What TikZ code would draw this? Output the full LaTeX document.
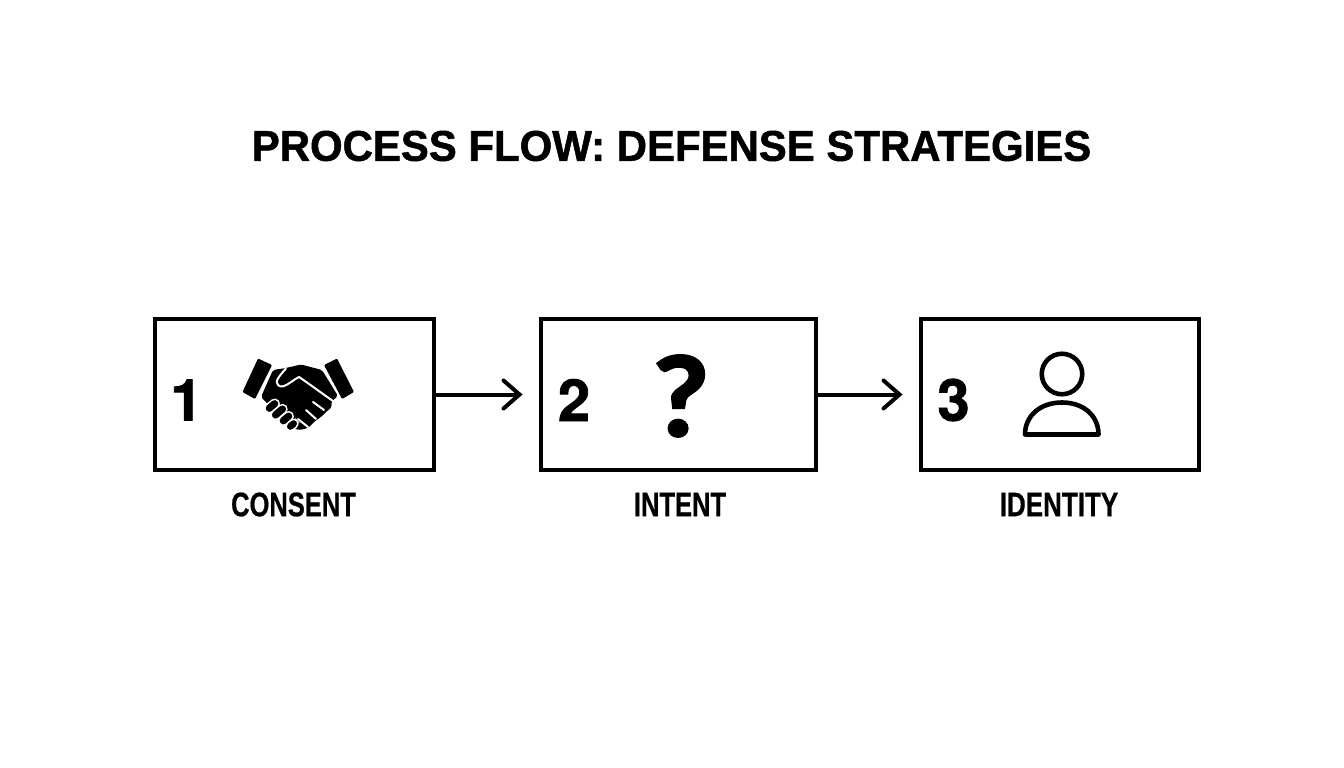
\documentclass[tikz,border=0pt]{standalone}
\usepackage{fontspec}
\setmainfont[BoldFeatures={FakeBold=0.6}]{Liberation Sans}
\newfontfamily\heavyfont[BoldFeatures={FakeBold=1.2}]{Liberation Sans}
\newfontfamily\numfont[BoldFeatures={FakeBold=1.2}]{TeX Gyre Heros}
\newfontfamily\qfont[BoldFeatures={FakeBold=2.5}]{Lato}
\usetikzlibrary{arrows.meta}
\pgfdeclarearrow{
  name=Chev,
  setup code={\pgfarrowssettipend{2pt}\pgfarrowssetlineend{-1pt}\pgfarrowssetvisualbackend{-14pt}\pgfarrowssetbackend{-16pt}\pgfarrowshullpoint{-16pt}{14pt}\pgfarrowshullpoint{-16pt}{-14pt}\pgfarrowshullpoint{0pt}{0pt}},
  drawing code={\pgfsetdash{}{0pt}\pgfsetroundcap\pgfsetmiterjoin\pgfpathmoveto{\pgfpoint{-16pt}{14pt}}\pgfpathlineto{\pgfpointorigin}\pgfpathlineto{\pgfpoint{-16pt}{-14pt}}\pgfusepathqstroke}
}
\tikzset{
  stepbox/.style={draw=black,line width=4pt,minimum height=151pt,inner sep=0pt,fill=white},
  numlabel/.style={font=\numfont\bfseries\fontsize{58}{60}\selectfont,inner sep=0pt,text=black},
  caplabel/.style={font=\bfseries\fontsize{34}{36}\selectfont,inner sep=0pt,xscale=0.75,text=black},
  flow/.style={line width=4pt,line cap=round,shorten >=17.5pt,-Chev},
  hand/.style={fill=black,draw=none},
  gap/.style={draw=white,line width=2pt,line cap=round,line join=round},
  finger/.style={draw=white,fill=black,line width=1.4pt,rounded corners=4.4pt},
  outline/.style={draw=black,line width=4.6pt,line join=round}
}
\begin{document}
\begin{tikzpicture}[x=1pt,y=-1pt]
\useasboundingbox (0,0) rectangle (1344,768);
\fill[white] (0,0) rectangle (1344,768);
\node[inner sep=0pt,xscale=0.975,font=\heavyfont\bfseries\fontsize{43}{45}\selectfont,text=black] (title) at (671.5,146) {PROCESS FLOW: DEFENSE STRATEGIES};
\node[stepbox,minimum width=279pt] (b1) at (294.5,394.5) {};
\node[stepbox,minimum width=275pt] (b2) at (678.5,394.5) {};
\node[stepbox,minimum width=278pt] (b3) at (1060,394.5) {};
\draw[flow] (b1) -- (b2);
\draw[flow] (b2) -- (b3);
\node[numlabel] (n1) at (186.5,400) {1};
\node[numlabel] (n2) at (574,400) {2};
\node[numlabel] (n3) at (953.5,400) {3};
\node[caplabel] (l1) at (293.5,504.5) {CONSENT};
\node[caplabel] (l2) at (680,504.5) {INTENT};
\node[caplabel,xscale=1.02] (l3) at (1059,504.5) {IDENTITY};
% handshake
\fill[hand,rounded corners=1pt] (258,358.5) -- (272,365) -- (255,399) -- (242.5,392) -- cycle;
\fill[hand,rounded corners=1pt] (337,358.5) -- (324,365) -- (342,399) -- (354,392) -- cycle;
\fill[hand,rounded corners=2pt] (273,370) -- (286,368) -- (301,364.5) -- (322,370) -- (338,396) -- (331,402) -- (332,407) -- (326,412) -- (321,417) -- (315,421) -- (308,428) -- (300,430) -- (291,428) -- (261,397) -- cycle;
\draw[gap] (286,368.5) .. controls (280,375) and (274,382) .. (278,385) .. controls (283,390) and (291,381) .. (299,377) .. controls (308,383) and (320,392) .. (333,401);
\draw[gap] (324,410) -- (313,402);
\draw[gap] (316,419) -- (306,410);
\draw[gap] (308,427) -- (298,419);
\draw[finger,rotate around={40:(272,406)}] (264,401.5) rectangle (280,410.5);
\draw[finger,rotate around={40:(279,412)}] (270,407.5) rectangle (288,416.5);
\draw[finger,rotate around={40:(286,418.5)}] (278,414) rectangle (294,423);
\draw[finger,rotate around={40:(292,425)}] (285.5,420.7) rectangle (298.5,429.3);
% question mark
\node[inner sep=0pt,xscale=1.08,font=\qfont\bfseries\fontsize{110}{114}\selectfont,text=black] (q) at (681,396) {?};
% person
\node[outline,circle,minimum size=40.5pt,inner sep=0pt] (head) at (1062,374) {};
\draw[outline] (1025,434.5) .. controls (1025,416) and (1040,402.5) .. (1062,402.5) .. controls (1084,402.5) and (1098.5,416) .. (1098.5,434.5) -- cycle;
\end{tikzpicture}
\end{document}
